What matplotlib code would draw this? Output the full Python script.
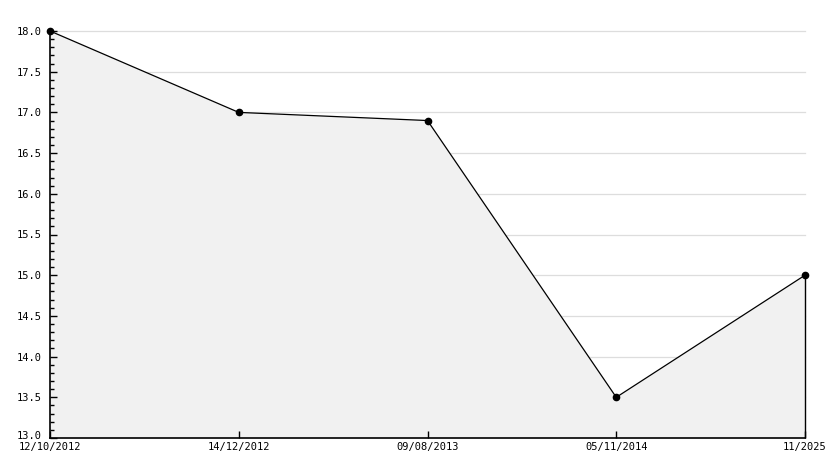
import matplotlib
matplotlib.use("Agg")
import matplotlib.pyplot as plt
import matplotlib.transforms as mtransforms
from matplotlib.ticker import MultipleLocator

dates = ["12/10/2012", "14/12/2012", "09/08/2013", "05/11/2014", "11/2025"]
values = [18.0, 17.0, 16.9, 13.5, 15.0]
ymin, ymax = 13.0, 18.0

W, H = 834, 468
fig = plt.figure(figsize=(W / 100, H / 100), dpi=100)
ax = fig.add_axes([50 / W, 1 - 438 / H, (805 - 50) / W, (438 - 31) / H])

x = list(range(len(values)))
yticks = [ymin + 0.5 * i for i in range(11)]
for yv in yticks[1:]:
    ax.axhline(yv, color="#dddddd", lw=0.9, zorder=0.5, clip_on=False)
ax.fill_between(x, values, ymin, color="#f1f1f1", lw=0, zorder=1)
ax.plot(x, values, color="black", lw=0.9, marker="o", ms=4.5, zorder=3, clip_on=False)
ax.vlines(x[-1], ymin, values[-1], color="black", lw=1.0, zorder=3, clip_on=False)

ax.set_xlim(0, len(values) - 1)
ax.set_ylim(ymin, ymax)
ax.set_yticks(yticks)
ax.set_yticklabels([f"{v:.1f}" for v in yticks])
ax.yaxis.set_minor_locator(MultipleLocator(0.1))

ax.set_xticks(x)
ax.set_xticklabels(dates)

for s in ["top", "right"]:
    ax.spines[s].set_visible(False)
for s in ["left", "bottom"]:
    ax.spines[s].set_linewidth(1.2)
    ax.spines[s].set_zorder(2.6)

ax.tick_params(axis="y", which="major", direction="in", length=5, width=1, labelsize=7.5, pad=6)
ax.tick_params(axis="y", which="minor", direction="in", length=3, width=1)
ax.tick_params(axis="x", which="major", direction="in", length=5, width=1, labelsize=7.5, pad=3)
for lab in ax.get_xticklabels() + ax.get_yticklabels():
    lab.set_family("DejaVu Sans Mono")

# nudge lowest y label up slightly, as in the reference
lab0 = ax.get_yticklabels()[0]
lab0.set_transform(lab0.get_transform() + mtransforms.ScaledTranslation(0, 3 / 100, fig.dpi_scale_trans))

fig.savefig("out.png", dpi=100, facecolor="white")
